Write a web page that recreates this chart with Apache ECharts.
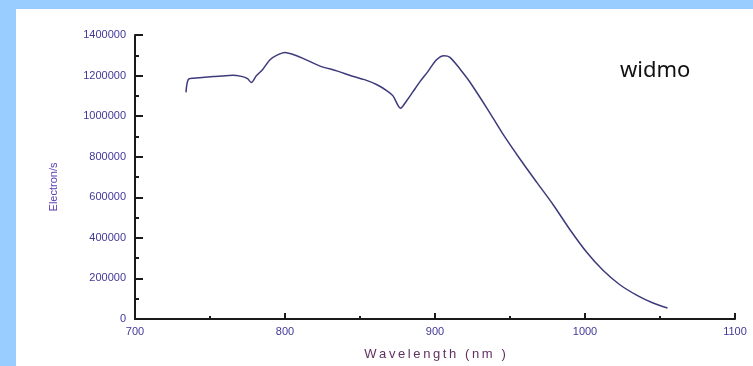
<!DOCTYPE html>
<html>
<head>
<meta charset="utf-8">
<script src="https://cdn.jsdelivr.net/npm/echarts@6/dist/echarts.min.js"></script>
<style>
  html, body { margin: 0; padding: 0; background: #fff; }
  #chart { width: 753px; height: 366px; }
</style>
</head>
<body>
<div id="chart"></div>
<script>
// spectrum
const wavelengths = [734, 735.5, 739, 745, 752, 758, 765, 771, 775, 777.5, 781, 785, 790, 795, 800, 805, 812, 823, 835, 845, 853, 861, 868, 872, 877, 881, 885, 890, 895, 901, 906, 910, 917, 923, 935, 945, 957, 968, 979, 990, 1001, 1012, 1023, 1035, 1045, 1055];
const electrons = [1117000, 1180000, 1187000, 1190000, 1195000, 1198000, 1202000, 1196000, 1185000, 1166000, 1200000, 1229000, 1278000, 1302000, 1314000, 1305000, 1285000, 1248000, 1222000, 1197000, 1180000, 1156000, 1125000, 1100000, 1039000, 1075000, 1117000, 1170000, 1217000, 1278000, 1298000, 1290000, 1229000, 1171000, 1035000, 915000, 785000, 672000, 561000, 440000, 330000, 240000, 170000, 115000, 80000, 54000];

const labelColor = '#40389a';
const plain = v => String(v);

const chart = echarts.init(document.getElementById('chart'));
chart.setOption({
  animation: false,
  backgroundColor: '#fff',
  grid: { left: 135, right: 18, top: 35, bottom: 44 },
  graphic: [
    { type: 'rect', shape: { x: 0, y: 0, width: 16, height: 366 }, style: { fill: '#99ccff' }, silent: true },
    { type: 'rect', shape: { x: 0, y: 0, width: 753, height: 9 }, style: { fill: '#99ccff' }, silent: true },
    {
      type: 'text', left: 620, top: 60,
      style: { text: 'widmo', font: '22px "Noto Sans"', fill: '#111' }
    },
    {
      type: 'text', x: 54, y: 187, rotation: Math.PI / 2,
      style: { text: 'Electron/s', font: '11px "Liberation Sans"', fill: '#5a3cb4', align: 'center', verticalAlign: 'middle' }
    }
  ],
  xAxis: {
    type: 'value',
    min: 700,
    max: 1100,
    interval: 100,
    name: 'Wavelength (nm )'.split('').join('\u2009'),
    nameLocation: 'middle',
    nameGap: 29,
    nameTextStyle: { fontFamily: 'Liberation Sans', fontSize: 13, color: '#603060' },
    splitLine: { show: false },
    axisLine: { lineStyle: { color: '#1a1a1a', width: 2 } },
    axisTick: { inside: true, length: 6, lineStyle: { color: '#1a1a1a', width: 2 } },
    minorTick: { show: true, splitNumber: 2, length: 3, lineStyle: { color: '#1a1a1a', width: 2 } },
    axisLabel: { margin: 7, fontFamily: 'Liberation Sans', fontSize: 11, color: labelColor, formatter: plain }
  },
  yAxis: {
    type: 'value',
    min: 0,
    max: 1400000,
    interval: 200000,
    splitLine: { show: false },
    axisLine: { show: true, lineStyle: { color: '#1a1a1a', width: 2 } },
    axisTick: { show: true, inside: true, length: 8, lineStyle: { color: '#1a1a1a', width: 2 } },
    minorTick: { show: true, splitNumber: 2, length: 4, lineStyle: { color: '#1a1a1a', width: 2 } },
    axisLabel: { margin: 9, fontFamily: 'Liberation Sans', fontSize: 11, color: labelColor, formatter: plain }
  },
  series: [{
    type: 'line',
    data: wavelengths.map((w, i) => [w, electrons[i]]),
    showSymbol: false,
    smooth: 0.3,
    lineStyle: { color: '#3d3a7c', width: 1.5 }
  }]
});
</script>
</body>
</html>
